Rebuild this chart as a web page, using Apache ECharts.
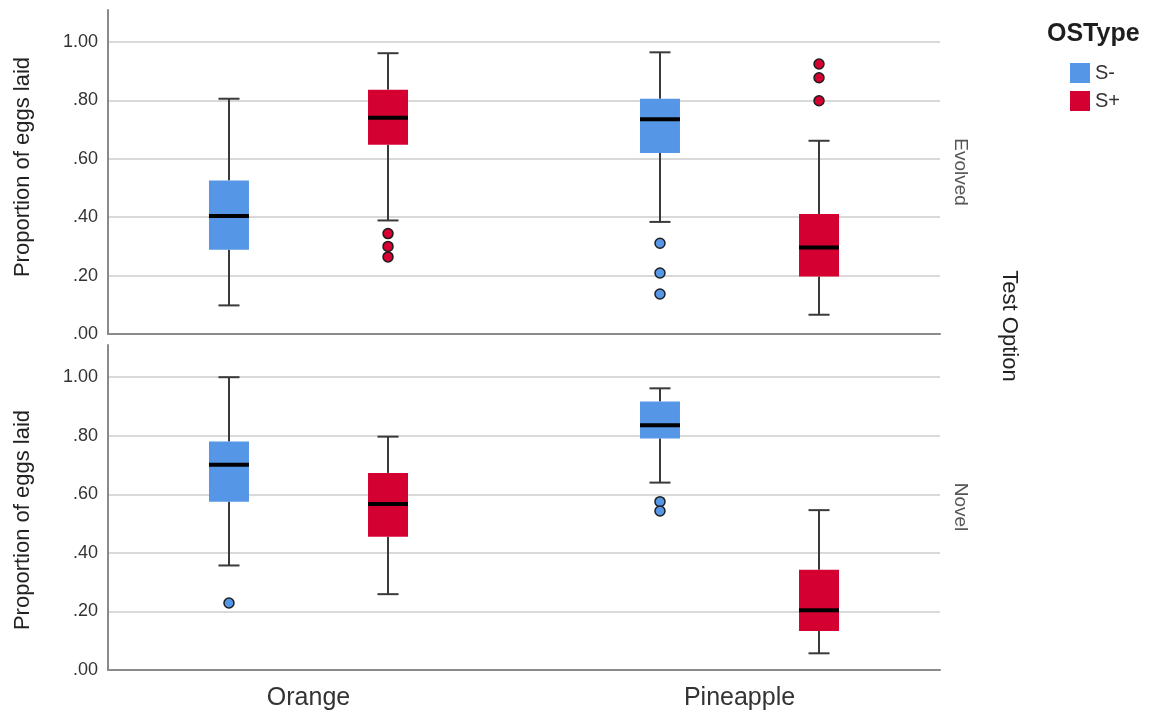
<!DOCTYPE html>
<html>
<head>
<meta charset="utf-8">
<title>Proportion of eggs laid by test option and OSType</title>
<script src="https://cdn.jsdelivr.net/npm/echarts@6/dist/echarts.min.js"></script>
<style>
  html, body { margin: 0; padding: 0; background: #ffffff; }
  #chart { width: 1161px; height: 715px; }
</style>
</head>
<body>
<div id="chart"></div>
<script>
// ---- data ----
const categories = ['Orange', 'Pineapple'];
const osTypes = ['S-', 'S+'];
const panelNames = ['Evolved', 'Novel'];

// Box statistics per category: [lower whisker, Q1, median, Q3, upper whisker]
const evolvedSMinus = [[0.098, 0.289, 0.404, 0.526, 0.806], [0.384, 0.620, 0.736, 0.806, 0.965]];
const evolvedSPlus  = [[0.389, 0.648, 0.741, 0.837, 0.962], [0.066, 0.197, 0.296, 0.411, 0.662]];
const novelSMinus   = [[0.357, 0.575, 0.701, 0.780, 1.000], [0.640, 0.791, 0.836, 0.917, 0.962]];
const novelSPlus    = [[0.259, 0.455, 0.567, 0.673, 0.797], [0.057, 0.133, 0.204, 0.342, 0.546]];

// Outliers per category
const evolvedSMinusOut = [[], [0.311, 0.209, 0.137]];
const evolvedSPlusOut  = [[0.344, 0.300, 0.264], [0.925, 0.878, 0.799]];
const novelSMinusOut   = [[0.229], [0.575, 0.543]];
const novelSPlusOut    = [[], []];

// ---- styling ----
const FONT = '"Liberation Sans", Arial, Helvetica, sans-serif';
const typeColors = { 'S-': '#5596e6', 'S+': '#d50032' };
const Y_MAX = 1.11;

function tickLabel(v) {
  return v.toFixed(2).replace(/^0/, '');
}

// One box per category, shifted left (S-) or right (S+) within its band
function boxRenderer(side) {
  return function (params, api) {
    const cat = api.value(0);
    const band = api.size([1, 0])[0];
    const cx = api.coord([cat, 0])[0] + side * band * 0.1845;
    const half = band * 0.0464;
    const capHalf = band * 0.0244;
    const y = (i) => api.coord([cat, api.value(i)])[1];
    const yLow = y(1), yQ1 = y(2), yMed = y(3), yQ3 = y(4), yHigh = y(5);
    const whisker = { stroke: '#3a3a3a', lineWidth: 2 };
    return {
      type: 'group',
      children: [
        { type: 'line', shape: { x1: cx, y1: yHigh, x2: cx, y2: yQ3 }, style: whisker },
        { type: 'line', shape: { x1: cx, y1: yQ1, x2: cx, y2: yLow }, style: whisker },
        { type: 'line', shape: { x1: cx - capHalf, y1: yHigh, x2: cx + capHalf, y2: yHigh }, style: whisker },
        { type: 'line', shape: { x1: cx - capHalf, y1: yLow, x2: cx + capHalf, y2: yLow }, style: whisker },
        { type: 'rect', shape: { x: cx - half, y: yQ3, width: half * 2, height: yQ1 - yQ3 },
          style: { fill: api.visual('color') } },
        { type: 'line', shape: { x1: cx - half, y1: yMed, x2: cx + half, y2: yMed },
          style: { stroke: '#000000', lineWidth: 4 } }
      ]
    };
  };
}

function outlierRenderer(side) {
  return function (params, api) {
    const cat = api.value(0);
    const band = api.size([1, 0])[0];
    const p = api.coord([cat, api.value(1)]);
    return {
      type: 'circle',
      shape: { cx: p[0] + side * band * 0.1845, cy: p[1], r: 5 },
      style: { fill: api.visual('color'), stroke: '#1e1e1e', lineWidth: 1.5 }
    };
  };
}

function boxSeries(name, stats, gridIdx, side) {
  return {
    type: 'custom',
    name: name,
    xAxisIndex: gridIdx,
    yAxisIndex: gridIdx,
    itemStyle: { color: typeColors[name] },
    renderItem: boxRenderer(side),
    encode: { x: 0, y: [1, 2, 3, 4, 5] },
    data: stats.map((s, i) => [i].concat(s)),
    z: 3
  };
}

function outlierSeries(name, outs, gridIdx, side) {
  const data = [];
  outs.forEach((list, i) => list.forEach((v) => data.push([i, v])));
  return {
    type: 'custom',
    name: name,
    xAxisIndex: gridIdx,
    yAxisIndex: gridIdx,
    itemStyle: { color: typeColors[name] },
    renderItem: outlierRenderer(side),
    encode: { x: 0, y: 1 },
    data: data,
    z: 4
  };
}

// frame grids (axes + gridlines) and data grids (box positions)
const frameGrids = [
  { left: 108, right: 221, top: 10, height: 324 },
  { left: 108, right: 221, top: 345, height: 325 }
];
const dataGrids = [
  { left: 93, width: 862, top: 10, height: 324 },
  { left: 93, width: 862, top: 345, height: 325 }
];

function frameXAxis(gi) {
  return {
    type: 'value', gridIndex: gi, min: 0, max: 1,
    axisLine: { show: true, onZero: false, lineStyle: { color: '#8a8a8a', width: 2 } },
    axisTick: { show: false }, axisLabel: { show: false }, splitLine: { show: false }
  };
}
function frameYAxis(gi) {
  return {
    type: 'value', gridIndex: gi, min: 0, max: Y_MAX, interval: 0.2,
    axisLine: { show: true, lineStyle: { color: '#8a8a8a', width: 2 } },
    axisTick: { show: false },
    axisLabel: {
      showMaxLabel: false, margin: 10, fontSize: 18, color: '#333333', fontFamily: FONT,
      formatter: tickLabel
    },
    splitLine: { show: true, showMinLine: false, showMaxLine: false,
      lineStyle: { color: '#d9d9d9', width: 2 } }
  };
}
function dataXAxis(gi, showLabels) {
  return {
    type: 'category', gridIndex: gi, data: categories,
    axisLine: { show: false }, axisTick: { show: false }, splitLine: { show: false },
    axisLabel: { show: showLabels, margin: 16, fontSize: 25, color: '#333333', fontFamily: FONT }
  };
}
function dataYAxis(gi) {
  return { type: 'value', gridIndex: gi, min: 0, max: Y_MAX, show: false };
}

const option = {
  backgroundColor: '#ffffff',
  animation: false,
  textStyle: { fontFamily: FONT },
  grid: frameGrids.concat(dataGrids),
  xAxis: [frameXAxis(0), frameXAxis(1), dataXAxis(2, false), dataXAxis(3, true)],
  yAxis: [frameYAxis(0), frameYAxis(1), dataYAxis(2), dataYAxis(3)],
  title: {
    text: 'OSType', left: 1047, top: 22, padding: 0,
    textStyle: { fontSize: 25, fontWeight: 'bold', color: '#1e1e1e', fontFamily: FONT }
  },
  legend: {
    data: osTypes.map((t) => ({ name: t, icon: 'rect' })),
    orient: 'vertical', left: 1070, top: 63, padding: 0,
    itemWidth: 20, itemHeight: 20, itemGap: 8, selectedMode: false,
    textStyle: { fontSize: 20, color: '#333333', fontFamily: FONT }
  },
  graphic: [
    { type: 'text', x: 23, y: 167, rotation: Math.PI / 2,
      style: { text: 'Proportion of eggs laid', fontSize: 22, fill: '#222222', fontFamily: FONT,
        textAlign: 'center', textVerticalAlign: 'middle' } },
    { type: 'text', x: 23, y: 520, rotation: Math.PI / 2,
      style: { text: 'Proportion of eggs laid', fontSize: 22, fill: '#222222', fontFamily: FONT,
        textAlign: 'center', textVerticalAlign: 'middle' } },
    { type: 'text', x: 960, y: 172, rotation: -Math.PI / 2,
      style: { text: panelNames[0], fontSize: 19, fill: '#555555', fontFamily: FONT,
        textAlign: 'center', textVerticalAlign: 'middle' } },
    { type: 'text', x: 960, y: 507, rotation: -Math.PI / 2,
      style: { text: panelNames[1], fontSize: 19, fill: '#555555', fontFamily: FONT,
        textAlign: 'center', textVerticalAlign: 'middle' } },
    { type: 'text', x: 1009, y: 326, rotation: -Math.PI / 2,
      style: { text: 'Test Option', fontSize: 22, fill: '#222222', fontFamily: FONT,
        textAlign: 'center', textVerticalAlign: 'middle' } }
  ],
  series: [
    boxSeries('S-', evolvedSMinus, 2, -1),
    boxSeries('S+', evolvedSPlus, 2, 1),
    boxSeries('S-', novelSMinus, 3, -1),
    boxSeries('S+', novelSPlus, 3, 1),
    outlierSeries('S-', evolvedSMinusOut, 2, -1),
    outlierSeries('S+', evolvedSPlusOut, 2, 1),
    outlierSeries('S-', novelSMinusOut, 3, -1),
    outlierSeries('S+', novelSPlusOut, 3, 1)
  ]
};

const chart = echarts.init(document.getElementById('chart'), null, { renderer: 'canvas' });
chart.setOption(option);
</script>
</body>
</html>
